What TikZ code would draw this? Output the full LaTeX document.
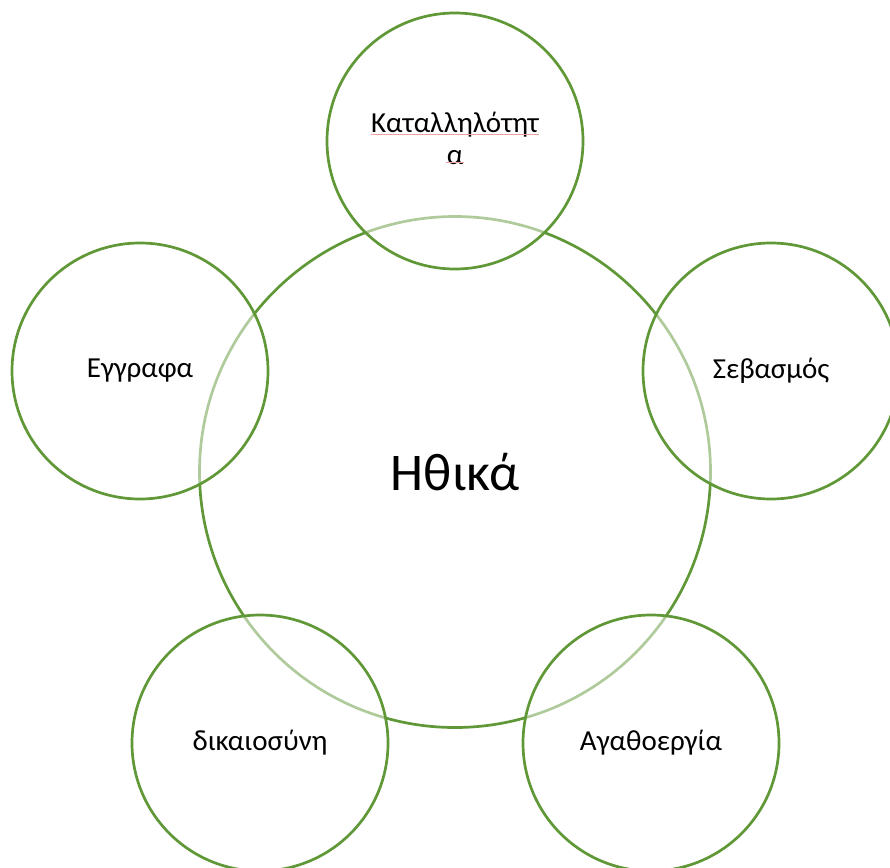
\documentclass[tikz,border=0pt]{standalone}
\usepackage{fontspec}
\setmainfont{Carlito}
\definecolor{ringgreen}{RGB}{96,152,56}
\definecolor{spellred}{RGB}{240,160,160}
\tikzset{
  ring/.style={circle, draw=ringgreen, line width=2.7pt, minimum size=#1, inner sep=0pt},
  sat/.style={ring=256pt, fill=white, fill opacity=0.5, draw opacity=1, text opacity=1,
              font=\fontsize{29}{33}\selectfont, align=center},
  lbl/.style={font=\fontsize{29}{33}\selectfont, inner sep=0pt},
  spell/.style={spellred, line width=1.1pt},
}
\begin{document}
\begin{tikzpicture}[x=1pt,y=-1pt]
\useasboundingbox (0,0) rectangle (890,867);
\clip (0,0) rectangle (890,867);
\node[ring=511pt, font=\fontsize{53}{60}\selectfont] (center) at (455,472) {Ηθικά};
\node[sat] (top) at (455,141) {};
\node[sat] (left) at (140,371) {Εγγραφα};
\node[sat] (right) at (771,371) {Σεβασμός};
\node[sat] (bl) at (260,743) {δικαιοσύνη};
\node[sat] (br) at (651,743) {Αγαθοεργία};
\node[lbl] (t1) at (455,125) {Καταλληλότητ};
\node[lbl] (t2) at (455,158) {α};
\draw[spell] ([yshift=3pt]t1.south west) -- ([yshift=3pt]t1.south east);
\draw[spell] ([yshift=3pt,xshift=-1pt]t2.south west) -- ([yshift=3pt,xshift=1pt]t2.south east);
\end{tikzpicture}
\end{document}
